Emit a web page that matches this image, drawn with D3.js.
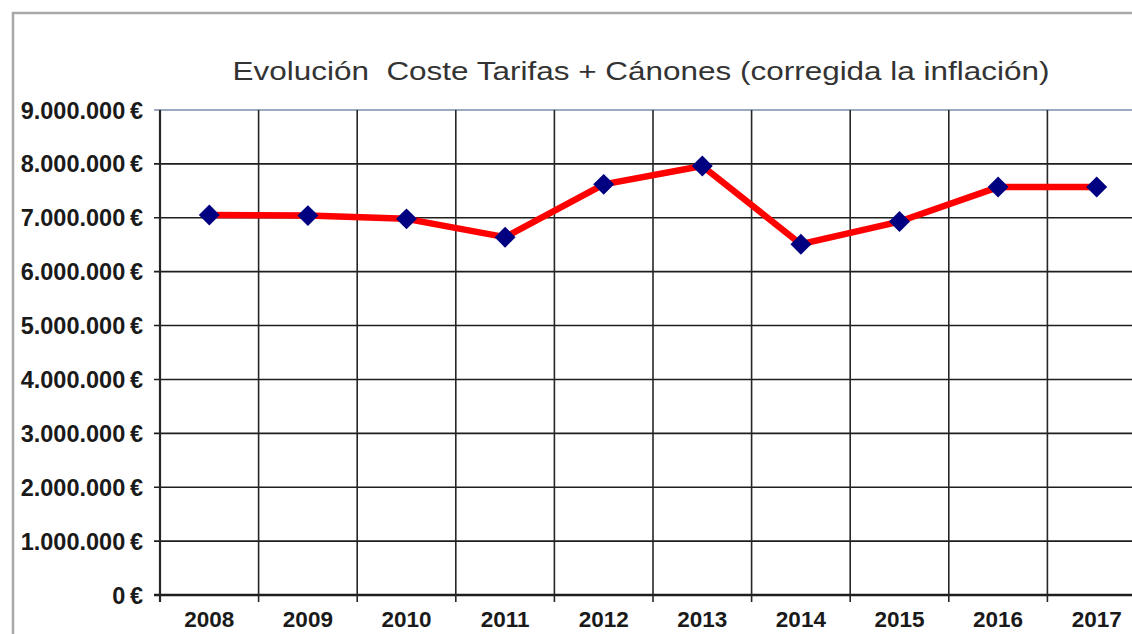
<!DOCTYPE html>
<html lang="es">
<head>
    <meta charset="UTF-8">
    <title>Evolución Coste Tarifas + Cánones</title>
    <script src="https://d3js.org/d3.v7.min.js"></script>
    <style>
        body { margin: 0; background: #fff; }
        svg { display: block; font-family: "Liberation Sans", Arial, sans-serif; }
        .title { font-size: 26px; fill: #333; }
        .ylab { font-size: 23.5px; font-weight: bold; fill: #1a1a1a; }
        .xlab { font-size: 22.5px; font-weight: bold; fill: #1a1a1a; }
    </style>
</head>
<body>
<div id="chart"></div>
<script>
    // datos
    const years = ["2008", "2009", "2010", "2011", "2012", "2013", "2014", "2015", "2016", "2017"];
    const coste = [7050000, 7040000, 6980000, 6640000, 7620000, 7960000, 6510000, 6930000, 7570000, 7570000];
    const yTicks = [0, 1000000, 2000000, 3000000, 4000000, 5000000, 6000000, 7000000, 8000000, 9000000];
    const titulo = "Evolución  Coste Tarifas + Cánones (corregida la inflación)";

    const width = 1132, height = 634;
    const plot = {left: 160, top: 110, bottom: 595, step: 98.6};

    const svg = d3.select("#chart").append("svg")
        .attr("width", width)
        .attr("height", height);

    // marco exterior
    svg.append("path")
        .attr("d", `M13,${height} V13 H${width}`)
        .attr("fill", "none")
        .attr("stroke", "#a8a8a8")
        .attr("stroke-width", 2.5);

    const x = d3.scaleBand()
        .domain(years)
        .range([plot.left, plot.left + plot.step * years.length])
        .padding(0);

    const y = d3.scaleLinear()
        .domain([0, 9000000])
        .range([plot.bottom, plot.top]);

    const fmt = v => d3.format(",")(v).replace(/,/g, ".") + "\u2009€";

    // rejilla horizontal
    svg.append("g")
        .selectAll("line")
        .data(yTicks)
        .join("line")
        .attr("x1", plot.left - 6)
        .attr("x2", width)
        .attr("y1", d => y(d))
        .attr("y2", d => y(d))
        .attr("stroke", d => d === 9000000 ? "#7a8ea8" : "#1e1e1e")
        .attr("stroke-width", d => d === 0 ? 2.4 : 1.6);

    // rejilla vertical (límites de categoría)
    const bounds = years.map(d => x(d)).concat([x(years[years.length - 1]) + x.bandwidth()]);
    svg.append("g")
        .selectAll("line")
        .data(bounds)
        .join("line")
        .attr("x1", d => d)
        .attr("x2", d => d)
        .attr("y1", plot.top)
        .attr("y2", plot.bottom + 7)
        .attr("stroke", "#262626")
        .attr("stroke-width", (d, i) => i === 0 ? 2.2 : 1.6);

    // etiquetas eje Y
    svg.append("g")
        .selectAll("text")
        .data(yTicks)
        .join("text")
        .attr("class", "ylab")
        .attr("x", 143)
        .attr("y", d => y(d) + 8.5)
        .attr("text-anchor", "end")
        .text(fmt);

    // etiquetas eje X
    svg.append("g")
        .selectAll("text")
        .data(years)
        .join("text")
        .attr("class", "xlab")
        .attr("x", d => x(d) + x.bandwidth() / 2)
        .attr("y", 627)
        .attr("text-anchor", "middle")
        .text(d => d);

    // título
    svg.append("text")
        .attr("class", "title")
        .attr("x", 641)
        .attr("y", 80)
        .attr("text-anchor", "middle")
        .attr("textLength", 817)
        .attr("lengthAdjust", "spacingAndGlyphs")
        .style("white-space", "pre")
        .text(titulo);

    const pts = years.map((d, i) => [x(d) + x.bandwidth() / 2, y(coste[i])]);

    // línea
    svg.append("path")
        .datum(pts)
        .attr("d", d3.line())
        .attr("fill", "none")
        .attr("stroke", "#ff0000")
        .attr("stroke-width", 6.5)
        .attr("stroke-linejoin", "round");

    // marcadores
    svg.append("g")
        .selectAll("path")
        .data(pts)
        .join("path")
        .attr("d", d3.symbol(d3.symbolDiamond2, 280)())
        .attr("transform", d => `translate(${d[0]},${d[1]})`)
        .attr("fill", "#000080");
</script>
</body>
</html>
